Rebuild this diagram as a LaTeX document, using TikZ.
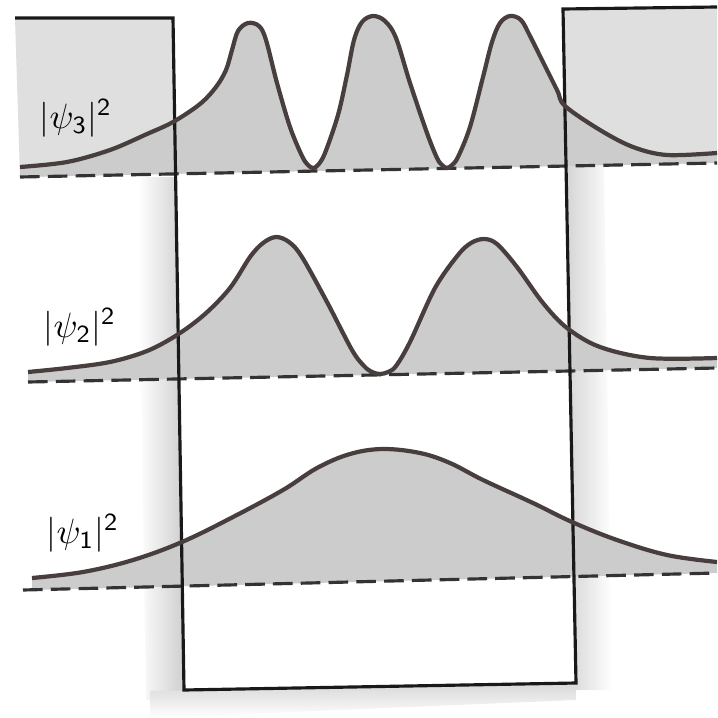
\documentclass[tikz,border=0pt]{standalone}
\usepackage{tikz}
\usepackage{amsmath}

\definecolor{curvecol}{RGB}{72,62,62}

% probability densities, drawn in picture units (x right, y down)
\newcommand{\densthree}{-- plot[smooth, tension=0.55] coordinates {(20,167) (67,162) (110,150) (147,134) (173,122) (200,104) (216,87) (226,70) (232,50) (238,31) (248,23) (259,26) (266,40) (277,83) (290,127) (302,156) (308,165) (313,168) (318,165) (325,153) (338,115) (347,75) (354,40) (362,22) (373,16) (385,21) (396,38) (410,83) (427,133) (437,158) (442,165) (447,168) (452,165) (458,157) (470,127) (483,77) (492,42) (500,23) (510,16) (521,20) (530,36) (540,56) (557,90) (565,106) (600,130) (633,147) (667,155) (717,153)}}
\newcommand{\denstwo}{-- plot[smooth, tension=0.55] coordinates {(28,372) (67,368) (110,362) (147,351) (177,335) (205,314) (230,288) (250,257) (263,243) (276,237) (289,242) (302,257) (327,302) (352,350) (364,366) (372,372) (380,374) (388,372) (396,366) (410,342) (435,288) (458,255) (471,243) (484,239) (497,244) (517,267) (543,303) (567,328) (600,347) (650,358) (717,358)}}
\newcommand{\densone}{-- plot[smooth, tension=0.6] coordinates {(32,578) (83,572) (133,560) (182,542) (233,517) (283,490) (317,468) (350,454) (383,449) (420,453) (450,463) (483,480) (533,503) (572,522) (617,540) (667,555) (717,562)}}

\begin{document}
\begin{tikzpicture}[
    x=0.01cm, y=-0.01cm,
    every node/.style={font=\normalsize},
    well/.style={draw=black!90, line width=0.9pt},
    density/.style={draw=curvecol, line width=1.2pt},
    underfill/.style={fill=gray!40},
    barrier/.style={fill=gray!25},
    zeroline/.style={draw=black!80, line width=0.9pt, dash pattern=on 5.6pt off 2.3pt},
    psilabel/.style={inner sep=0pt}
]
\useasboundingbox (0,0) rectangle (717,718);

% corners of the well
\coordinate (tl) at (15,18);
\coordinate (wl) at (173,18);
\coordinate (bl) at (184,690);
\coordinate (br) at (576,683);
\coordinate (wr) at (563,9);
\coordinate (tr) at (717,7);

% zero lines of the three densities
\coordinate (z3l) at (20,177);  \coordinate (z3r) at (717,163);
\coordinate (z2l) at (28,382);  \coordinate (z2r) at (717,368);
\coordinate (z1l) at (32,590);  \coordinate (z1r) at (717,573);

% shaded barrier regions
\fill[barrier] (tl) -- (wl) -- (176,174) -- (z3l) -- cycle;
\fill[barrier] (wr) -- (tr) -- (z3r) -- (566,166) -- cycle;
\shade[left color=white, right color=gray!38] (138,177) -- (176,177) -- (184,700) -- (146,700) -- cycle;
\shade[left color=gray!32, right color=white] (568,166) -- (604,166) -- (612,690) -- (576,690) -- cycle;
\shade[top color=gray!30, bottom color=white] (150,691) -- (576,684) -- (576,700) -- (150,718) -- cycle;

% filled areas
\fill[underfill] (z3l) \densthree -- (z3r) -- cycle;
\fill[underfill] (z2l) \denstwo -- (z2r) -- cycle;
\fill[underfill] (z1l) \densone -- (z1r) -- cycle;

\draw[zeroline] (z3l) -- (z3r);
\draw[zeroline] (z2l) -- (z2r);
\draw[zeroline] (23,590) -- (z1r);

% the well
\draw[well] (tl) -- (wl) -- (bl) -- (br) -- (wr) -- (tr);

% curves
\draw[density] (20,167) \densthree;
\draw[density] (28,372) \denstwo;
\draw[density] (32,578) \densone;

\node[psilabel] (psi3) at (76,118) {$|\psi_{\mathsf{3}}|^{\mathsf{2}}$};
\node[psilabel] (psi2) at (80,327) {$|\psi_{\mathsf{2}}|^{\mathsf{2}}$};
\node[psilabel] (psi1) at (83,533) {$|\psi_{\mathsf{1}}|^{\mathsf{2}}$};
\end{tikzpicture}
\end{document}
